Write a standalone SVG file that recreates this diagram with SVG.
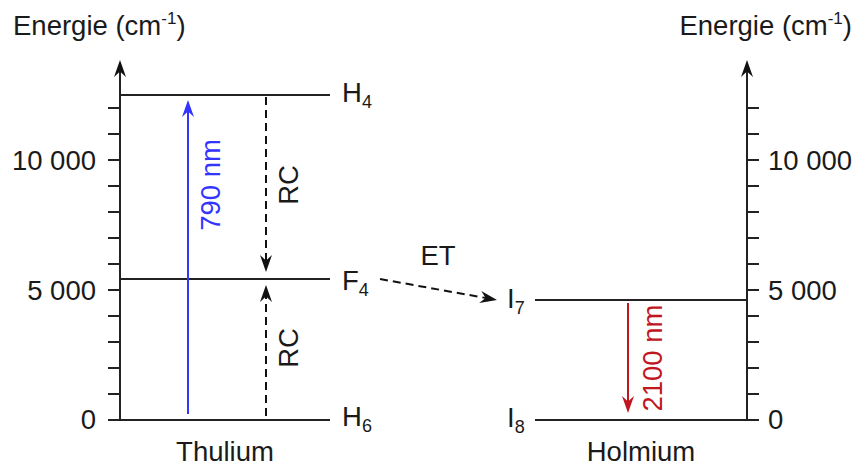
<svg xmlns="http://www.w3.org/2000/svg" width="855" height="467" viewBox="0 0 855 467">
<defs>
<style>
text{font-family:"Liberation Sans",Arial,sans-serif;font-size:27.5px;fill:#1a1a1a}
.sub{font-size:18px}
.sup{font-size:17px}
.ln{stroke:#222;stroke-width:2;fill:none}
.dash{stroke:#111;stroke-width:2;fill:none;stroke-dasharray:8 5}
</style>
<marker id="ak" viewBox="0 0 17 12" refX="9" refY="6" markerWidth="17" markerHeight="12" markerUnits="userSpaceOnUse" orient="auto"><path d="M0,0 L17,6 L0,12 L5.5,6 z" fill="#111"/></marker>
<marker id="ab" viewBox="0 0 17 12" refX="9" refY="6" markerWidth="17" markerHeight="12" markerUnits="userSpaceOnUse" orient="auto"><path d="M0,0 L17,6 L0,12 L5.5,6 z" fill="#3434ff"/></marker>
<marker id="ar" viewBox="0 0 17 12" refX="9" refY="6" markerWidth="17" markerHeight="12" markerUnits="userSpaceOnUse" orient="auto"><path d="M0,0 L17,6 L0,12 L5.5,6 z" fill="#c0161e"/></marker>
</defs>
<g id="axis-left">
<path class="ln" d="M120,421 V68" marker-end="url(#ak)"/>
<path class="ln" d="M108,108H120M108,134H120M108,160H120M108,186H120M108,212H120M108,238H120M108,264H120M108,290H120M108,316H120M108,342H120M108,368H120M108,394H120"/>
<text x="13" y="35">Energie (cm<tspan class="sup" dy="-11">-1</tspan><tspan dy="11">)</tspan></text>
<text x="96" y="170" text-anchor="end">10 000</text>
<text x="96" y="300" text-anchor="end">5 000</text>
<text x="96" y="429" text-anchor="end">0</text>
<text x="225" y="461" text-anchor="middle">Thulium</text>
</g>
<g id="axis-right">
<path class="ln" d="M747,421 V68" marker-end="url(#ak)"/>
<path class="ln" d="M747,108H759M747,134H759M747,160H759M747,186H759M747,212H759M747,238H759M747,264H759M747,290H759M747,316H759M747,342H759M747,368H759M747,394H759M747,420H759"/>
<text x="852" y="35" text-anchor="end">Energie (cm<tspan class="sup" dy="-11">-1</tspan><tspan dy="11">)</tspan></text>
<text x="768" y="170">10 000</text>
<text x="768" y="300">5 000</text>
<text x="768" y="429">0</text>
<text x="641" y="461" text-anchor="middle">Holmium</text>
</g>
<g id="level-H4">
<path class="ln" d="M120,95H330"/>
<text x="342" y="102">H<tspan class="sub" dy="6">4</tspan></text>
</g>
<g id="level-F4">
<path class="ln" d="M120,279H330"/>
<text x="342" y="290">F<tspan class="sub" dy="6">4</tspan></text>
</g>
<g id="level-H6">
<path class="ln" d="M108,420H330"/>
<text x="342" y="426">H<tspan class="sub" dy="6">6</tspan></text>
</g>
<g id="level-I7">
<path class="ln" d="M535,300H747"/>
<text x="507" y="308">I<tspan class="sub" dy="6">7</tspan></text>
</g>
<g id="level-I8">
<path class="ln" d="M535,420H747"/>
<text x="507" y="427">I<tspan class="sub" dy="6">8</tspan></text>
</g>
<g id="connectors">
<path d="M188,414 V108" stroke="#3434ff" stroke-width="2" fill="none" marker-end="url(#ab)"/>
<text transform="translate(220,185) rotate(-90)" text-anchor="middle" style="fill:#3434ff">790 nm</text>
<path class="dash" d="M266,97 V264" marker-end="url(#ak)"/>
<text transform="translate(298,185) rotate(-90)" text-anchor="middle">RC</text>
<path class="dash" d="M266,416 V293" marker-end="url(#ak)"/>
<text transform="translate(298,348) rotate(-90)" text-anchor="middle">RC</text>
<path class="dash" d="M380,279 L489.1,298.6" marker-end="url(#ak)"/>
<text x="438" y="265" text-anchor="middle">ET</text>
<path d="M628,303 V405" stroke="#c0161e" stroke-width="2" fill="none" marker-end="url(#ar)"/>
<text transform="translate(662,358) rotate(-90)" text-anchor="middle" style="fill:#c0161e">2100 nm</text>
</g>
</svg>
